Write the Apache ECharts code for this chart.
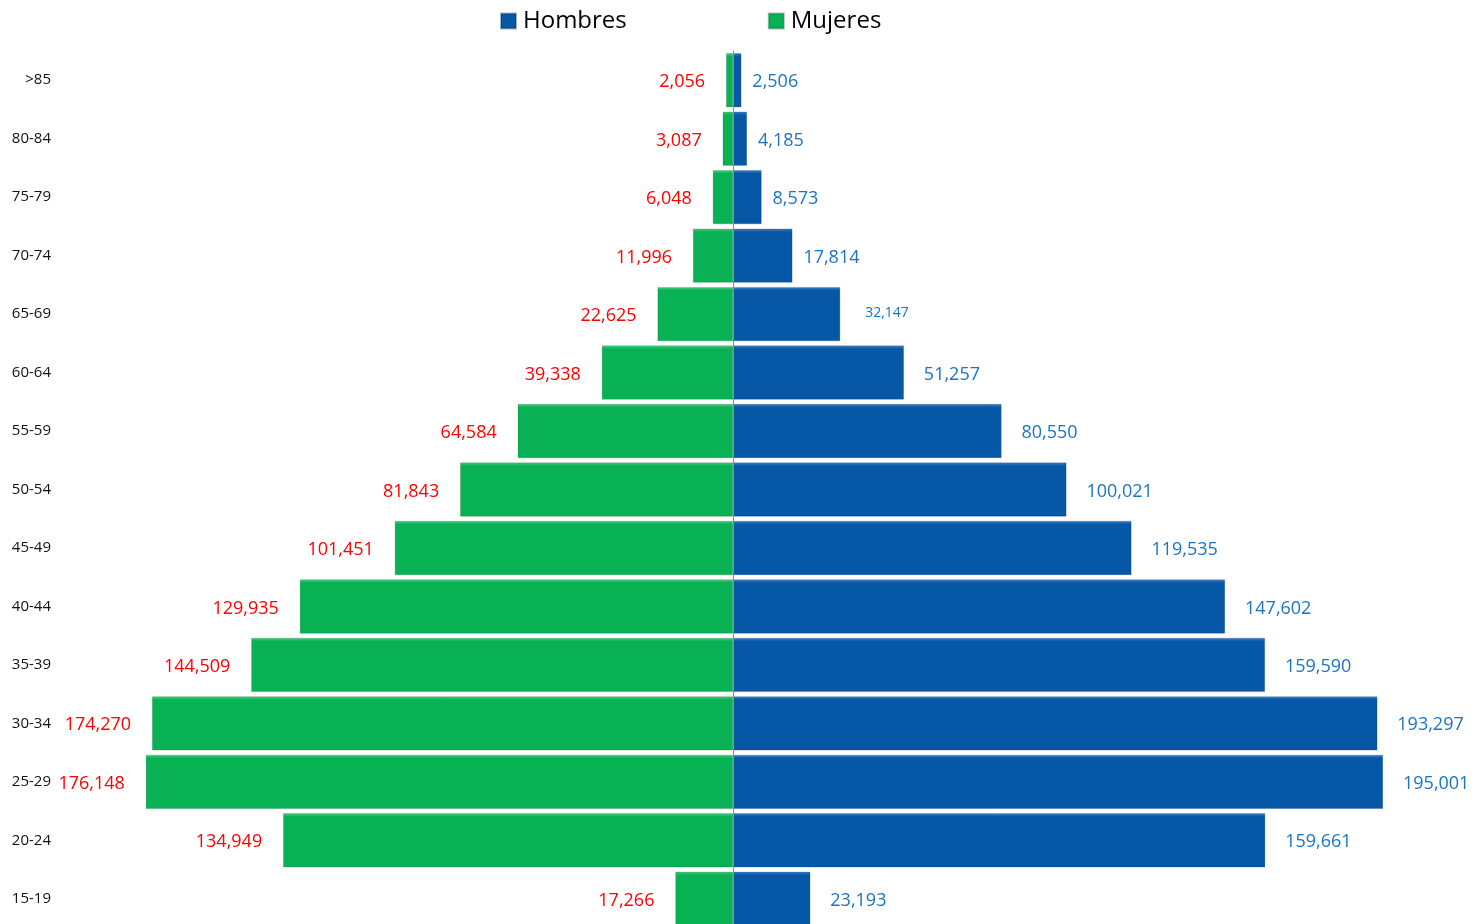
<!DOCTYPE html>
<html>
<head>
<meta charset="utf-8">
<script src="https://cdn.jsdelivr.net/npm/echarts@6/dist/echarts.min.js"></script>
<style>
html,body{margin:0;padding:0;background:#fff;}
#chart{width:1482px;height:924px;}
</style>
</head>
<body>
<div id="chart"></div>
<script>
// Age groups, bottom to top
const categories = ['15-19','20-24','25-29','30-34','35-39','40-44','45-49','50-54','55-59','60-64','65-69','70-74','75-79','80-84','>85'];
const hombres = [23193,159661,195001,193297,159590,147602,119535,100021,80550,51257,32147,17814,8573,4185,2506];
const mujeres = [17266,134949,176148,174270,144509,129935,101451,81843,64584,39338,22625,11996,6048,3087,2056];
const seriesNames = ['Hombres','Mujeres'];

const fmt = v => Math.abs(v).toLocaleString('en-US');
const FONT = '"Open Sans", "Liberation Sans", sans-serif';

function grad(top, main){
  return new echarts.graphic.LinearGradient(0,0,0,1,[
    {offset:0, color:top},
    {offset:0.06, color:main},
    {offset:1, color:main}
  ]);
}

const chart = echarts.init(document.getElementById('chart'), null, {renderer:'canvas'});
chart.setOption({
  animation:false,
  backgroundColor:'#ffffff',
  textStyle:{fontFamily:FONT},
  legend:{
    data:seriesNames,
    left:495, top:4,
    itemWidth:15, itemHeight:15, itemGap:141,
    icon:'rect',
    textStyle:{fontSize:24, color:'#000', fontFamily:FONT, padding:[0,0,0,2]}
  },
  grid:{left:0, right:0, top:51, height:877, containLabel:false, outerBoundsMode:'none'},
  xAxis:{
    type:'value', min:-219900, max:224700,
    show:false
  },
  yAxis:{
    type:'category', data:categories,
    axisLine:{show:false, onZero:false},
    axisTick:{show:false},
    splitLine:{show:false},
    axisLabel:{inside:true, margin:51, align:'right', color:'#111', fontSize:15, fontFamily:FONT, padding:[3,0,0,0]}
  },
  series:[
    {
      name:seriesNames[0], type:'bar', stack:'p',
      barWidth:54,
      data:hombres.map((v,i)=>({
        value:v,
        label: categories[i]==='65-69' ? {fontSize:14, distance:25, offset:[0,-1]} :
               (v<20000 ? {distance:11} : {})
      })),
      itemStyle:{color:grad('#3f86cc','#0657a6'), borderColor:'rgba(0,40,90,0.35)', borderWidth:0.6},
      label:{show:true, position:'right', distance:20, offset:[0,2], color:'#1a74c4', fontSize:18, fontFamily:FONT, formatter:p=>fmt(p.value)},
      markLine:{
        silent:true, symbol:'none', label:{show:false},
        lineStyle:{color:'#8a8a8a', width:1, type:'solid'},
        data:[{xAxis:0}]
      }
    },
    {
      name:seriesNames[1], type:'bar', stack:'p',
      barWidth:54,
      data:mujeres.map(v=>-v),
      itemStyle:{color:grad('#4fd083','#08b254'), borderColor:'rgba(0,80,30,0.35)', borderWidth:0.6},
      label:{show:true, position:'left', distance:21, offset:[0,2], color:'#ff0000', fontSize:18, fontFamily:FONT, formatter:p=>fmt(p.value)}
    }
  ],
  color:['#0657a6','#08b254']
});
</script>
</body>
</html>
